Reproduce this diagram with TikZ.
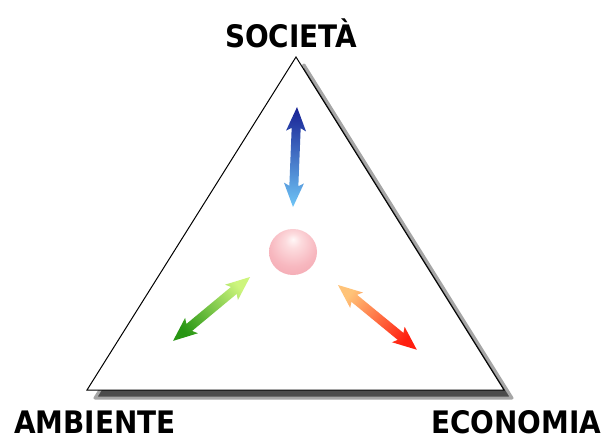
\documentclass[tikz,border=0pt]{standalone}
\usepackage{fontspec}
\newfontfamily\labelfont{DejaVu Sans Condensed}
\usetikzlibrary{positioning}

\definecolor{navyend}{RGB}{25,35,150}
\definecolor{skyend}{RGB}{110,195,245}
\definecolor{limeend}{RGB}{205,245,125}
\definecolor{leafend}{RGB}{40,150,20}
\definecolor{peachend}{RGB}{255,195,120}
\definecolor{fireend}{RGB}{255,30,15}

\pgfdeclareradialshading{pinkglow}{\pgfpoint{0bp}{14bp}}{%
  rgb(0bp)=(1,0.97,0.97);
  rgb(8bp)=(0.99,0.86,0.87);
  rgb(24bp)=(0.97,0.72,0.75);
  rgb(40bp)=(0.95,0.64,0.68);
  rgb(60bp)=(0.96,0.70,0.73)}

% double arrow along x, length #1
\newcommand{\twowayarrow}[1]{%
  (0,0) -- (24,-10) -- (21,-4.5) -- (#1-21,-4.5) -- (#1-24,-10) -- (#1,0)
  -- (#1-24,10) -- (#1-21,4.5) -- (21,4.5) -- (24,10) -- cycle}

\begin{document}
\begin{tikzpicture}[
    x=1pt, y=-1pt,
    corner/.style = {font=\labelfont\bfseries\fontsize{31}{31}\selectfont, anchor=base, inner sep=0pt},
    frame/.style = {draw=black, fill=white, line width=1pt, line join=miter},
    dropshadow/.style = {fill=black!70, draw=black!35, line width=3pt, line join=round}
]
\useasboundingbox (0,0) rectangle (605,439);

% Corners of the triangle
\coordinate (top) at (296,57);
\coordinate (left) at (87,390);
\coordinate (right) at (504,390);

% Shadow and triangle
\path[dropshadow] ([shift={(8,8)}]top) -- ([shift={(8,8)}]left) -- ([shift={(8,8)}]right) -- cycle;
\path[frame] (top) -- (left) -- (right) -- cycle;

% Labels
\node[corner] (societa) at (291,47) {SOCIETÀ};
\node[corner] (ambiente) at (95,433) {AMBIENTE};
\node[corner] (economia) at (516,433) {ECONOMIA};

% Sphere in the middle
\coordinate (centre) at (293,252);
\shade[shading=pinkglow] (centre) ellipse [x radius=24, y radius=23];

% Arrows - light end first, shading angle = direction - 90
\coordinate (socfrom) at (293,207);
\coordinate (ambfrom) at (250,277);
\coordinate (ecofrom) at (338,285);

\begin{scope}[shift={(socfrom)}, rotate=87.7]
  \shade[top color=navyend, bottom color=skyend, shading angle=-2.3] \twowayarrow{100};
\end{scope}
\begin{scope}[shift={(ambfrom)}, rotate=219.7]
  \shade[top color=leafend, bottom color=limeend, shading angle=129.7] \twowayarrow{100};
\end{scope}
\begin{scope}[shift={(ecofrom)}, rotate=-39.4]
  \shade[top color=fireend, bottom color=peachend, shading angle=-129.4] \twowayarrow{102};
\end{scope}

\end{tikzpicture}
\end{document}
